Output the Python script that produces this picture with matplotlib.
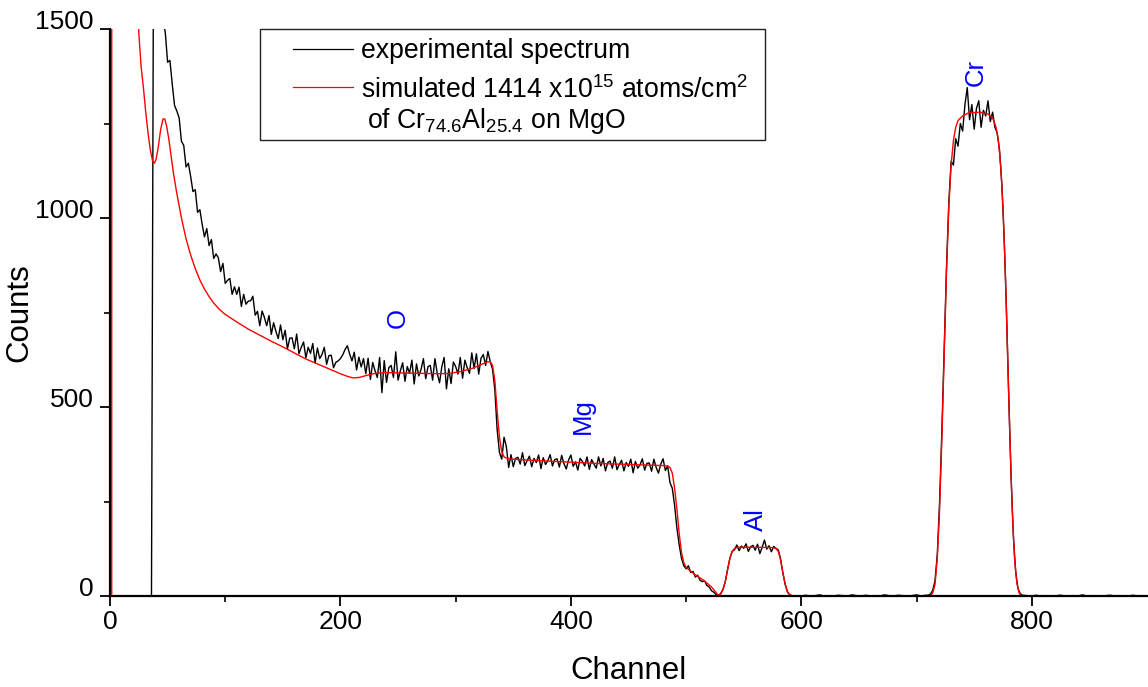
import matplotlib
matplotlib.use('Agg')
import matplotlib.pyplot as plt
import numpy as np
from matplotlib.patches import Rectangle

plt.rcParams['font.family'] = ['Liberation Sans', 'DejaVu Sans']
plt.rcParams['mathtext.fontset'] = 'custom'
plt.rcParams['mathtext.rm'] = 'Liberation Sans'
plt.rcParams['mathtext.it'] = 'Liberation Sans:italic'

# experimental spectrum, counts per channel (segments: first channel, channel step, counts)
exp_lead = [0, 0]
exp_bg = [1950, 1900, 1800, 1650, 1530,
          1490, 1412, 1417, 1355, 1298, 1283, 1265, 1203, 1192, 1135,
          1145, 1110, 1070, 1075, 1015, 1022, 983, 950, 972, 927,
          943, 893, 905, 895, 858, 880, 827, 835, 840, 798,
          818, 798, 817, 766, 798, 772, 780,
          781, 793, 743, 753, 715, 754, 737, 715, 742, 692,
          723, 700, 681, 717, 678, 703, 654, 682, 683, 654,
          693, 641, 658, 672, 630, 658, 642, 668, 616, 656,
          628, 639, 658, 613, 636, 637, 604,
          618, 622, 628, 638, 652, 662, 640, 622, 645, 598,
          632, 606, 628]
exp_o = [588, 629, 573, 618, 596, 578, 631, 538, 623, 565,
         604, 610, 578, 646, 571, 596, 617, 568, 607, 589,
         624, 561, 614, 582, 600, 628, 575, 607, 610, 571,
         628, 589, 564, 607, 631, 548, 601, 562, 619, 607,
         587, 631, 576, 624, 604, 589, 643, 602, 641, 587,
         629, 639, 610, 647, 620,
         600, 545, 440, 380, 362, 420, 395, 340]
exp_mg = [374, 342, 364, 367, 349, 379, 345, 358, 370, 342,
          364, 353, 373, 337, 366, 348, 358, 374, 344, 361,
          363, 341, 372, 350, 336, 360, 373, 343, 355, 333,
          364, 356, 344, 368, 335, 361, 349, 338, 368, 344,
          364, 331, 353, 357, 338, 368, 334, 348, 359, 331,
          353, 343, 362, 326, 356, 338, 347, 363, 333, 351,
          352, 330, 362, 340, 325, 349, 363, 332, 344, 300]
exp_al = [285, 240, 180, 135, 100, 80, 72, 80, 62, 65,
          50, 55, 42, 38, 40, 28, 24, 14, 10, 4,
          2, 6, 18, 38, 70, 100, 118, 122, 135, 120,
          132, 126, 138, 118, 130, 134, 121, 137, 112, 129,
          148, 124, 133, 117, 131, 126, 122, 98, 60, 30,
          10, 3, 1, 0, 0, 1]
exp_gap = [0, 2, 0, 1, 3, 0, 1, 0, 2, 1, 0, 3, 1, 0,
           2, 0, 1, 0, 3, 1, 0, 2, 1, 0, 1, 3, 0, 2]
exp_cr = [2, 5, 15, 40, 110, 250, 440, 660, 870, 1040,
          1150, 1140, 1210, 1190, 1250, 1230, 1300, 1345, 1260, 1300,
          1235, 1290, 1310, 1240, 1285, 1270, 1310, 1255, 1280, 1240,
          1225, 1180, 1090, 950, 760, 530, 320, 160, 65, 20,
          6, 2]
exp_tail = [1, 0, 2, 0, 1, 0, 0, 2, 1, 0, 1, 0, 3, 0,
            1, 0, 0, 1, 2, 0, 1, 0, 0, 2, 0, 1, 0]

# simulated spectrum (channel, counts)
sim_ch = [0, 1.5, 2, 10, 18, 22, 25, 27, 29, 31,
          33, 35, 37, 38.5, 40, 42, 44, 46, 47.5, 49,
          51, 53, 55, 58, 62, 66, 70, 74, 78, 82,
          86, 90, 95, 100, 110, 120, 130, 140, 150, 160,
          170, 180, 190, 200, 206, 211, 216, 222, 230, 240,
          255, 270, 285, 295, 305, 315, 322, 327, 330, 332,
          334, 336, 338, 340, 342, 345, 360, 380, 400, 420,
          440, 460, 480, 484, 486, 488, 490, 492, 494, 496,
          498, 500, 503, 507, 511, 515, 519, 522, 525, 527,
          528.5, 530, 532, 534, 536, 538, 540, 542, 545, 560,
          575, 578, 580, 582, 584, 586, 588, 590, 592, 712,
          714, 716, 718, 720, 722, 724, 726, 728, 730, 732,
          734, 736, 740, 745, 755, 762, 766, 769, 771, 773,
          775, 777, 779, 781, 783, 785, 787, 789, 791, 900]
sim_counts = [0, 0, 40000, 5000, 2200, 1700, 1490, 1400, 1345, 1280,
              1225, 1180, 1150, 1145, 1155, 1190, 1235, 1262, 1262, 1245,
              1210, 1165, 1120, 1065, 1000, 945, 902, 866, 836, 812,
              792, 775, 758, 745, 725, 706, 690, 674, 659, 643,
              627, 614, 601, 588, 581, 577, 578, 583, 589, 591,
              590, 589, 588, 589, 594, 603, 612, 619, 620, 610,
              570, 490, 420, 382, 368, 363, 360, 357, 354, 351,
              349, 347, 345, 344, 340, 325, 285, 230, 165, 115,
              88, 76, 68, 58, 50, 42, 32, 24, 13, 5,
              2, 6, 16, 38, 70, 100, 118, 126, 129, 129,
              128, 126, 118, 95, 62, 32, 12, 3, 0, 0,
              8, 30, 100, 230, 420, 640, 860, 1030, 1140, 1205,
              1240, 1258, 1270, 1278, 1280, 1275, 1265, 1240, 1205, 1140,
              1030, 860, 640, 420, 230, 100, 35, 8, 0, 0]

elements = ['O', 'Mg', 'Al', 'Cr']
element_ch = [250, 410, 561, 751]
element_counts = [735, 476, 201, 1384]

segments = [(0, 36, exp_lead), (38, 2, exp_bg), (222, 2, exp_o), (348, 2, exp_mg),
            (488, 2, exp_al), (600, 4, exp_gap), (710, 2, exp_cr), (796, 4, exp_tail)]
exp_ch = np.concatenate([start + step * np.arange(len(v)) for start, step, v in segments])
exp_counts = np.concatenate([v for _, _, v in segments])

fig = plt.figure(figsize=(11.48, 6.87), dpi=100)
ax = fig.add_axes([110 / 1148, 91 / 687, 1037 / 1148, 567 / 687])

ax.plot(exp_ch, exp_counts, color='black', lw=1.0)
ax.plot(sim_ch, sim_counts, color='red', lw=1.0)

for name, x, y in zip(elements, element_ch, element_counts):
    ax.text(x, y, name, color='blue', rotation=90, fontsize=18.5, ha='center', va='center')

ax.set_xlim(0, 900)
ax.set_ylim(0, 1500)
ax.set_xticks([0, 200, 400, 600, 800])
ax.set_xticks([100, 300, 500, 700], minor=True)
ax.set_yticks([0, 500, 1000, 1500])
ax.set_yticks([250, 750, 1250], minor=True)
for side in ['top', 'right']:
    ax.spines[side].set_visible(False)
for side in ['left', 'bottom']:
    ax.spines[side].set_linewidth(1.6)
ax.tick_params(which='major', direction='out', length=7, width=1.3, labelsize=19)
ax.tick_params(which='minor', direction='out', length=4.5, width=1.2)
ax.tick_params(axis='x', which='major', pad=3)
ax.tick_params(axis='y', which='major', pad=5)
plt.setp(ax.get_yticklabels(), va='baseline')

ax.set_xlabel('Channel', fontsize=22.5, labelpad=16)
ax.set_ylabel('Counts', fontsize=22.5, labelpad=0)

# legend box
ax.add_patch(Rectangle((0.1446, 0.8042), 0.487, 0.1958, transform=ax.transAxes,
                       facecolor='white', edgecolor='#222222', lw=1, clip_on=False, zorder=5))
ax.plot([0.1765, 0.2343], [0.9647, 0.9647], transform=ax.transAxes, color='black', lw=0.9, zorder=6)
ax.plot([0.1765, 0.2343], [0.8982, 0.8982], transform=ax.transAxes, color='red', lw=0.9, zorder=6)
ax.text(0.2420, 0.9494, 'experimental spectrum', transform=ax.transAxes,
        fontsize=19.2, va='baseline', zorder=6)
ax.text(0.2420, 0.8783, 'simulated 1414 x10$^{15}$ atoms/cm$^{2}$', transform=ax.transAxes,
        fontsize=19.2, va='baseline', zorder=6)
ax.text(0.2478, 0.8254, 'of Cr$_{74.6}$Al$_{25.4}$ on MgO', transform=ax.transAxes,
        fontsize=19.2, va='baseline', zorder=6)

fig.savefig('out.png', dpi=100)
